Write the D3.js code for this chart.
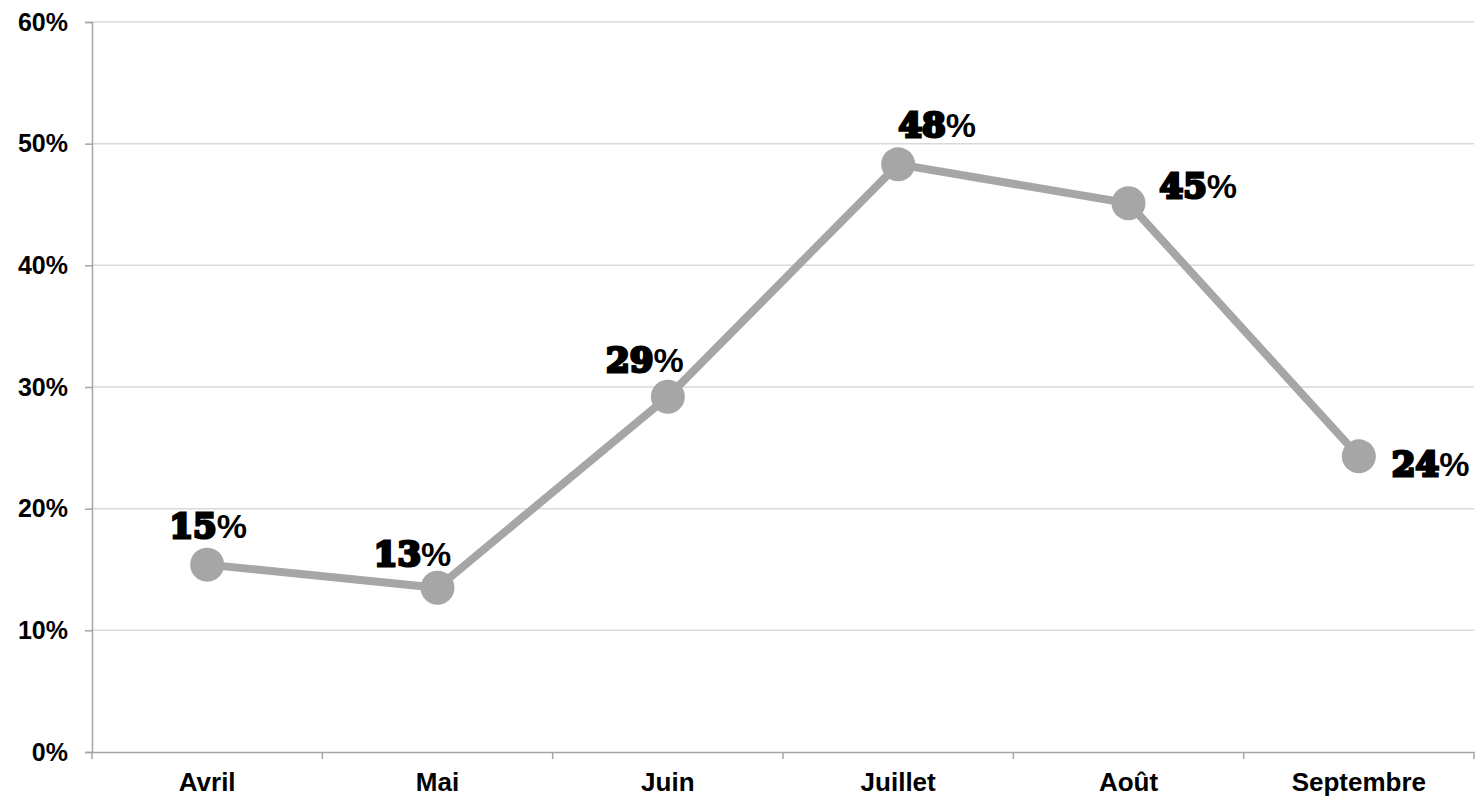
<!DOCTYPE html>
<html>
<head>
<meta charset="utf-8">
<script src="https://cdn.jsdelivr.net/npm/d3@7"></script>
<style>
  body { margin: 0; background: #fff; }
  svg { display: block; }
</style>
</head>
<body>
<div class="chart"></div>
<script>
// data
var months = ["Avril", "Mai", "Juin", "Juillet", "Août", "Septembre"];
var rates = [0.154, 0.135, 0.292, 0.483, 0.451, 0.243];
var yTicks = [0, 0.1, 0.2, 0.3, 0.4, 0.5, 0.6];
var labelTexts = ["15", "13", "29", "48", "45", "24"];

// where each data label sits relative to its point (dx, dy, anchor)
var labelPos = [
    [1, -27, "middle"],
    [-25, -22, "middle"],
    [-23, -25, "middle"],
    [39, -27, "middle"],
    [31, -5, "start"],
    [33, 20, "start"]
];

var margin = { top: 22, right: 10, bottom: 45, left: 92 },
    width = 1484 - margin.left - margin.right,
    height = 797 - margin.top - margin.bottom;

var svg = d3.select(".chart").append("svg")
    .attr("width", 1484)
    .attr("height", 797)
    .append("g")
    .attr("transform", "translate(" + margin.left + "," + margin.top + ")");

var x = d3.scaleBand().domain(months).range([0, width]);
var y = d3.scaleLinear().domain([0, 0.6]).range([height, 0]);

// gridlines
svg.selectAll(".grid")
    .data(yTicks.slice(1))
    .enter().append("line")
    .attr("x1", 0).attr("x2", width)
    .attr("y1", d => y(d)).attr("y2", d => y(d))
    .attr("stroke", "#d9d9d9").attr("stroke-width", 1.5);

// y axis
var yAxis = svg.append("g")
    .call(d3.axisLeft(y).tickValues(yTicks).tickFormat(d3.format(".0%")).tickSize(7).tickPadding(17));
yAxis.select(".domain").attr("stroke", "#a6a6a6").attr("stroke-width", 1.5);
yAxis.selectAll(".tick line").attr("stroke", "#a6a6a6").attr("stroke-width", 1.5);
yAxis.selectAll("text")
    .attr("font-family", "Liberation Sans, Arial, sans-serif")
    .attr("font-weight", "bold").attr("font-size", 25).attr("fill", "#000");

// x axis, ticks at band edges
var xAxis = svg.append("g")
    .attr("transform", "translate(0," + height + ")")
    .call(d3.axisBottom(x).tickSize(0).tickPadding(21));
xAxis.select(".domain").attr("stroke", "#a6a6a6").attr("stroke-width", 1.5);
xAxis.selectAll("text")
    .attr("font-family", "Liberation Sans, Arial, sans-serif")
    .attr("font-weight", "bold").attr("font-size", 26).attr("fill", "#000");
svg.selectAll(".xtick")
    .data(months.map(m => x(m)).concat([width]))
    .enter().append("line")
    .attr("x1", d => d).attr("x2", d => d)
    .attr("y1", height).attr("y2", height + 7)
    .attr("stroke", "#a6a6a6").attr("stroke-width", 1.5);

// line
var line = d3.line()
    .x((d, i) => x(months[i]) + x.bandwidth() / 2)
    .y(d => y(d));

svg.append("path")
    .datum(rates)
    .attr("d", line)
    .attr("fill", "none")
    .attr("stroke", "#a6a6a6")
    .attr("stroke-width", 8);

svg.selectAll(".dot")
    .data(rates)
    .enter().append("circle")
    .attr("cx", (d, i) => x(months[i]) + x.bandwidth() / 2)
    .attr("cy", d => y(d))
    .attr("r", 17)
    .attr("fill", "#a6a6a6");

// data labels
var labels = svg.selectAll(".lbl")
    .data(rates)
    .enter().append("text")
    .attr("x", (d, i) => x(months[i]) + x.bandwidth() / 2 + labelPos[i][0])
    .attr("y", (d, i) => y(d) + labelPos[i][1])
    .attr("text-anchor", (d, i) => labelPos[i][2])
    .attr("fill", "#000");
labels.append("tspan")
    .text((d, i) => labelTexts[i])
    .attr("font-family", "DejaVu Serif, serif")
    .attr("font-weight", "bold")
    .attr("font-size", 34)
    .attr("stroke", "#000").attr("stroke-width", 3);
labels.append("tspan")
    .text("%")
    .attr("font-family", "Liberation Sans, sans-serif")
    .attr("font-weight", "bold")
    .attr("font-size", 34);
</script>
</body>
</html>
